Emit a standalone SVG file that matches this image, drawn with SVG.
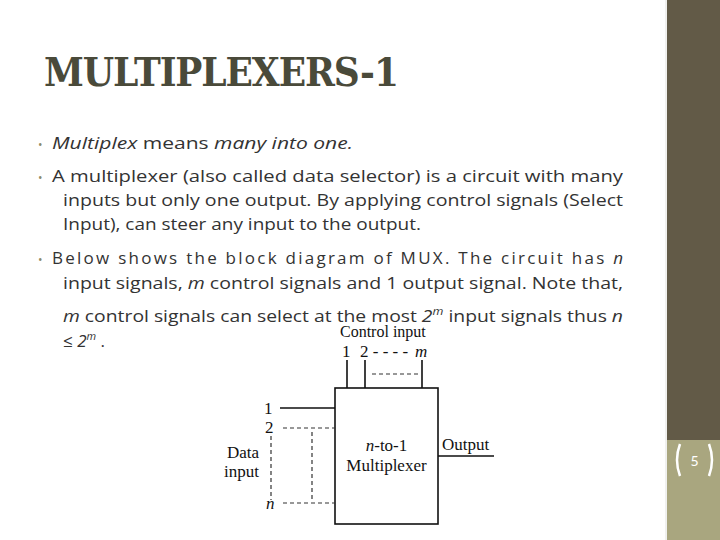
<svg xmlns="http://www.w3.org/2000/svg" width="720" height="540" viewBox="0 0 720 540">
<style>
.b{font-family:"Open Sans","Liberation Sans",sans-serif;font-size:17px;fill:#333}
.s{font-family:"Liberation Serif",serif;font-size:17px;fill:#111}
.l{stroke:#111;stroke-width:1.6;fill:none}
.d{stroke:#333;stroke-width:1.2;stroke-dasharray:4 3;fill:none}
</style>
<rect width="720" height="540" fill="#fff"/>
<g id="sidebar">
<rect x="665" y="0" width="55" height="540" fill="#f0f0ee"/>
<rect x="667" y="0" width="53" height="440" fill="#625a47"/>
<rect x="667" y="440" width="53" height="100" fill="#a9a67f"/>
<path d="M680 444 Q674 460 680 476" stroke="#fff" stroke-width="2.5" fill="none"/>
<path d="M709 444 Q715 460 709 476" stroke="#fff" stroke-width="2.5" fill="none"/>
<text x="694.5" y="466" font-family="Lato,'Liberation Sans',sans-serif" font-size="14" fill="#fff" text-anchor="middle">5</text>
</g>
<text x="44" y="86" font-weight="bold" font-size="40" fill="#4a4a3a" style="font-family:'DejaVu Serif Condensed','Liberation Serif',serif" textLength="355">MULTIPLEXERS-1</text>
<g id="text" class="b">
<text x="38" y="149" font-size="12" fill="#8a8a6a">•</text>
<text x="52" y="149" textLength="301" lengthAdjust="spacingAndGlyphs"><tspan font-style="italic">Multiplex</tspan> means <tspan font-style="italic">many into one.</tspan></text>
<text x="38" y="182" font-size="12" fill="#8a8a6a">•</text>
<text x="52" y="182" textLength="571" lengthAdjust="spacingAndGlyphs">A multiplexer (also called data selector) is a circuit with many</text>
<text x="63" y="206" textLength="560" lengthAdjust="spacingAndGlyphs">inputs but only one output. By applying control signals (Select</text>
<text x="63" y="230" textLength="358" lengthAdjust="spacingAndGlyphs">Input), can steer any input to the output.</text>
<text x="38" y="264" font-size="12" fill="#8a8a6a">•</text>
<text x="52" y="264" textLength="571">Below shows the block diagram of MUX. The circuit has <tspan font-style="italic">n</tspan></text>
<text x="63" y="289" textLength="560" lengthAdjust="spacingAndGlyphs">input signals, <tspan font-style="italic">m</tspan> control signals and 1 output signal. Note that,</text>
<text x="63" y="322" textLength="560" lengthAdjust="spacingAndGlyphs"><tspan font-style="italic">m</tspan> control signals can select at the most <tspan font-style="italic">2<tspan font-size="11" dy="-7">m</tspan></tspan><tspan dy="7"> input signals thus </tspan><tspan font-style="italic">n</tspan></text>
<text x="63" y="347">≤ <tspan font-style="italic">2<tspan font-size="11" dy="-7">m</tspan></tspan><tspan dy="7"> .</tspan></text>
</g>
<g id="mux">
<rect x="335" y="388" width="103" height="136" class="l" fill="#fff"/>
<text x="386.5" y="451" class="s" text-anchor="middle"><tspan font-style="italic">n</tspan>-to-1</text>
<text x="386.5" y="471" class="s" text-anchor="middle">Multiplexer</text>
</g>
<g id="labels" class="s">
<text x="340" y="337" font-size="16">Control input</text>
<text x="342" y="357">1</text><text x="360" y="357">2 - - - -</text><text x="415" y="357" font-style="italic">m</text>
<text x="264" y="414">1</text><text x="265" y="433">2</text><text x="266" y="509" font-style="italic">n</text>
<text x="227" y="458">Data</text><text x="224" y="477">input</text>
<text x="442" y="450">Output</text>
</g>
<g id="connectors">
<path class="l" d="M347 360V388M365 360V388M422 360V388M280 408H335M438 456H494"/>
<path class="d" d="M372 374H420M283 428H335M283 503H335M312 432V500M271 436V500"/>
</g>
</svg>
